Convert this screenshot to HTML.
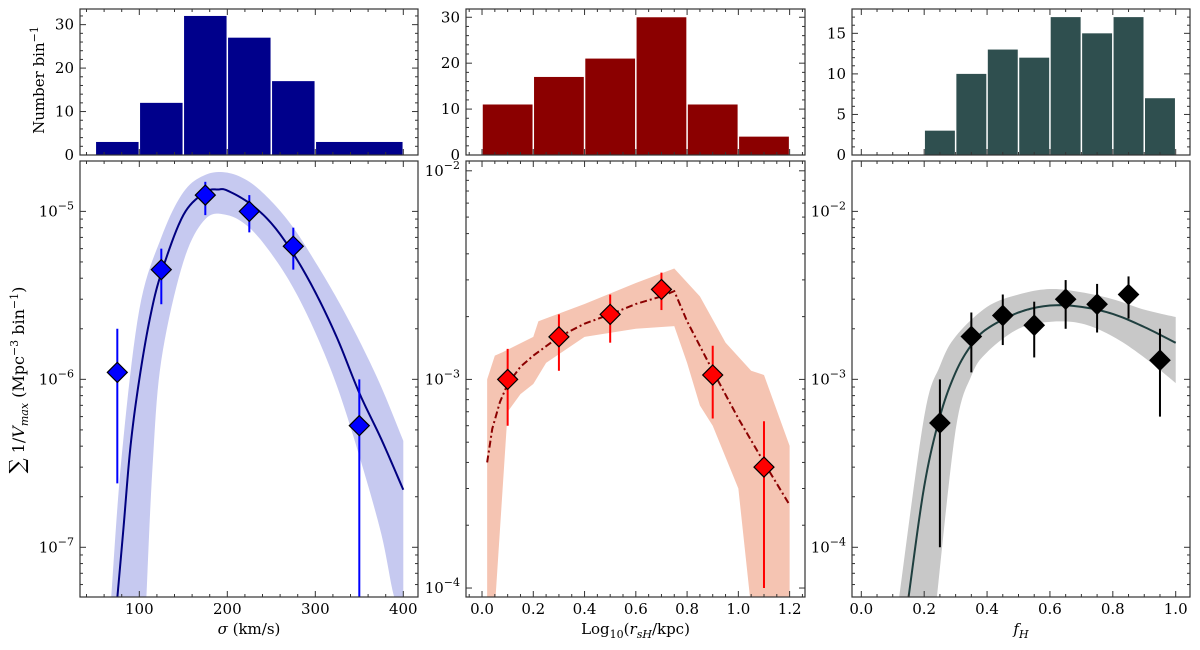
<!DOCTYPE html>
<html><head><meta charset="utf-8">
<style>
body{margin:0;background:#fff;}
svg{display:block;font-family:"DejaVu Serif","Liberation Serif",serif;}
</style></head>
<body>
<svg id="c" width="1200" height="650" viewBox="0 0 1200 650" xmlns="http://www.w3.org/2000/svg">
<defs>
<clipPath id="cp0"><rect x="80" y="161" width="338" height="436"/></clipPath>
<clipPath id="cp1"><rect x="466" y="161" width="339" height="436"/></clipPath>
<clipPath id="cp2"><rect x="852" y="161" width="338" height="436"/></clipPath>
</defs>
<text x="0" y="0" transform="translate(44,80) rotate(-90)" text-anchor="middle" font-size="15">Number bin<tspan dy="-6" font-size="11">−1</tspan></text>
<text x="0" y="0" transform="translate(24,380) rotate(-90)" text-anchor="middle" font-size="16"><tspan font-size="21">∑</tspan> 1/<tspan font-style="italic">V</tspan><tspan font-style="italic" font-size="11" dy="4">max</tspan><tspan dy="-4"> (Mpc</tspan><tspan dy="-6" font-size="11">−3</tspan><tspan dy="6"> bin</tspan><tspan dy="-6" font-size="11">−1</tspan><tspan dy="6">)</tspan></text>
</svg>
<script>
// ---------- data ----------
const hist1Edges=[50,100,150,200,250,300,400];
const hist1Counts=[3,12,32,27,17,3];
const pts1X=[75,125,175,225,275,350];
const pts1Y=[1.1e-6,4.5e-6,1.25e-5,1.0e-5,6.2e-6,5.3e-7];
const pts1Lo=[2.4e-7,2.8e-6,9.5e-6,7.5e-6,4.5e-6,5e-8];
const pts1Hi=[2.0e-6,6.0e-6,1.5e-5,1.25e-5,8.0e-6,1.0e-6];
const fit1X=[75,82,90,100,112,125,150,175,190,200,225,250,275,300,325,350,375,400];
const fit1Y=[5e-8,1.3e-7,4.0e-7,1.0e-6,2.3e-6,4.3e-6,9.5e-6,1.3e-5,1.35e-5,1.33e-5,1.12e-5,8.5e-6,5.6e-6,3.3e-6,1.75e-6,8.3e-7,4.4e-7,2.2e-7];
const band1UpX=[68,80,100,125,150,175,200,225,250,275,300,325,350,375,400];
const band1Up=[5e-8,3.5e-7,2.6e-6,7e-6,1.3e-5,1.65e-5,1.7e-5,1.5e-5,1.15e-5,8e-6,5e-6,3e-6,1.7e-6,9e-7,4.3e-7];
const band1LoX=[108,115,125,150,175,200,225,250,275,300,325,350,375,390,400];
const band1Lo=[5e-8,3e-7,1.3e-6,5e-6,9e-6,9.5e-6,8e-6,5.6e-6,3.5e-6,1.9e-6,9e-7,3.5e-7,1.2e-7,5e-8,5e-8];

const hist2Edges=[0,0.2,0.4,0.6,0.8,1.0,1.2];
const hist2Counts=[11,17,21,30,11,4];
const pts2X=[0.1,0.3,0.5,0.7,0.9,1.1];
const pts2Y=[1.0e-3,1.6e-3,2.05e-3,2.7e-3,1.05e-3,3.8e-4];
const pts2Lo=[6e-4,1.1e-3,1.5e-3,2.15e-3,6.5e-4,1e-4];
const pts2Hi=[1.4e-3,2.05e-3,2.55e-3,3.25e-3,1.45e-3,6.3e-4];
const fit2X=[0.02,0.04,0.07,0.1,0.15,0.2,0.3,0.4,0.5,0.6,0.7,0.75,0.8,0.9,1.0,1.1,1.2];
const fit2Y=[4e-4,5.8e-4,7.8e-4,9.5e-4,1.15e-3,1.3e-3,1.6e-3,1.85e-3,2.05e-3,2.3e-3,2.5e-3,2.65e-3,1.9e-3,1.1e-3,6.5e-4,4e-4,2.5e-4];
const band2UpX=[0.02,0.05,0.08,0.2,0.22,0.4,0.6,0.75,0.85,0.95,1.05,1.1,1.2];
const band2Up=[1e-3,1.3e-3,1.35e-3,1.6e-3,1.9e-3,2.3e-3,2.9e-3,3.4e-3,2.5e-3,1.5e-3,1.1e-3,1.05e-3,4.8e-4];
const band2LoX=[0.02,0.05,0.1,0.15,0.2,0.25,0.4,0.6,0.75,0.8,0.85,0.9,1.0,1.05,1.2];
const band2Lo=[8e-5,8e-5,7e-4,8.5e-4,9.5e-4,1.2e-3,1.6e-3,1.75e-3,1.8e-3,1.2e-3,7.5e-4,6e-4,3e-4,8e-5,8e-5];

const hist3Edges=[0.2,0.3,0.4,0.5,0.6,0.7,0.8,0.9,1.0];
const hist3Counts=[3,10,13,12,17,15,17,7];
const pts3X=[0.25,0.35,0.45,0.55,0.65,0.75,0.85,0.95];
const pts3Y=[5.5e-4,1.8e-3,2.4e-3,2.1e-3,3.0e-3,2.8e-3,3.2e-3,1.3e-3];
const pts3Lo=[1e-4,1.1e-3,1.6e-3,1.35e-3,2.0e-3,1.9e-3,2.3e-3,6e-4];
const pts3Hi=[1e-3,2.5e-3,3.2e-3,2.9e-3,3.9e-3,3.7e-3,4.1e-3,2.0e-3];
const fit3X=[0.15,0.2,0.25,0.3,0.35,0.4,0.5,0.6,0.7,0.8,0.9,1.0];
const fit3Y=[5e-5,2.3e-4,6e-4,1.1e-3,1.6e-3,2e-3,2.5e-3,2.75e-3,2.7e-3,2.45e-3,2.05e-3,1.65e-3];
const band3UpX=[0.12,0.2,0.25,0.3,0.4,0.5,0.6,0.7,0.8,0.9,1.0];
const band3Up=[5e-5,6e-4,1.2e-3,1.8e-3,2.7e-3,3.2e-3,3.45e-3,3.3e-3,3e-3,2.6e-3,2.35e-3];
const band3LoX=[0.24,0.3,0.35,0.4,0.5,0.6,0.7,0.8,0.9,1.0];
const band3Lo=[5e-5,5e-4,1.05e-3,1.45e-3,2e-3,2.2e-3,2.15e-3,1.8e-3,1.35e-3,9.5e-4];

const xTicks1=[100,200,300,400];
const xTicks2=[0.0,0.2,0.4,0.6,0.8,1.0,1.2];
const xTicks3=[0.0,0.2,0.4,0.6,0.8,1.0];
const hTicks1=[0,10,20,30];
const hTicks2=[0,10,20,30];
const hTicks3=[0,5,10,15];
const logTicks1=[-7,-6,-5];
const logTicks2=[-4,-3,-2];
const logTicks3=[-4,-3,-2];

// ---------- drawing ----------
const svg=document.getElementById('c');
const NS='http://www.w3.org/2000/svg';
function mk(tag,attrs,parent){const e=document.createElementNS(NS,tag);for(const k in attrs)e.setAttribute(k,attrs[k]);(parent||svg).appendChild(e);return e;}
function smoothPts(pts){ // Catmull-Rom to dense polyline
  if(pts.length<3)return pts;
  const out=[];
  for(let i=0;i<pts.length-1;i++){
    const p0=pts[Math.max(0,i-1)],p1=pts[i],p2=pts[i+1],p3=pts[Math.min(pts.length-1,i+2)];
    for(let s=0;s<10;s++){
      const t=s/10,t2=t*t,t3=t2*t;
      const f=(a,b,c,d)=>0.5*((2*b)+(-a+c)*t+(2*a-5*b+4*c-d)*t2+(-a+3*b-3*c+d)*t3);
      out.push([f(p0[0],p1[0],p2[0],p3[0]),f(p0[1],p1[1],p2[1],p3[1])]);
    }
  }
  out.push(pts[pts.length-1]);return out;
}
const toD=(pts,start)=>pts.map((q,k)=>((k||!start)?'L':'M')+q[0].toFixed(2)+','+q[1].toFixed(2)).join('');

const panels=[
 {L:80,R:418,xd:[32.6,416.7],hmax:33.6,ld:[-7.296,-4.7],edges:hist1Edges,counts:hist1Counts,hc:'#00008b',
  px:pts1X,py:pts1Y,plo:pts1Lo,phi:pts1Hi,mc:'#0000ff',ec:'#0000ff',fx:fit1X,fy:fit1Y,fc:'#000080',dash:null,smoothFit:true,smoothBand:true,
  bux:band1UpX,bu:band1Up,blx:band1LoX,bl:band1Lo,bc:'#c6c9f0',xt:xTicks1,xminor:20,ht:hTicks1,hminor:2,lt:logTicks1,
  fmt:v=>String(v),clip:'cp0'},
 {L:466,R:805,xd:[-0.0625,1.26],hmax:31.8,ld:[-4.043,-1.953],edges:hist2Edges,counts:hist2Counts,hc:'#8b0000',
  px:pts2X,py:pts2Y,plo:pts2Lo,phi:pts2Hi,mc:'#ff0000',ec:'#ff0000',fx:fit2X,fy:fit2Y,fc:'#8b0000',dash:'7,3,2,3',smoothFit:false,smoothBand:false,
  bux:band2UpX,bu:band2Up,blx:band2LoX,bl:band2Lo,bc:'#f5c4b2',xt:xTicks2,xminor:0.05,ht:hTicks2,hminor:2,lt:logTicks2,
  fmt:v=>v.toFixed(1),clip:'cp1'},
 {L:852,R:1190,xd:[-0.0296,1.0455],hmax:18.0,ld:[-4.296,-1.7],edges:hist3Edges,counts:hist3Counts,hc:'#2f4f4f',
  px:pts3X,py:pts3Y,plo:pts3Lo,phi:pts3Hi,mc:'#000',ec:'#000',fx:fit3X,fy:fit3Y,fc:'#1f3f3f',dash:null,smoothFit:true,smoothBand:true,
  bux:band3UpX,bu:band3Up,blx:band3LoX,bl:band3Lo,bc:'#c8c8c8',xt:xTicks3,xminor:0.05,ht:hTicks3,hminor:1,lt:logTicks3,
  fmt:v=>v.toFixed(1),clip:'cp2'}
];
const HT=9,HB=155,MT=161,MB=597;

panels.forEach((p,i)=>{
  const g=mk('g',{});
  
  
  const X=v=>p.L+(v-p.xd[0])/(p.xd[1]-p.xd[0])*(p.R-p.L);
  const HY=v=>HB-v/p.hmax*(HB-HT);
  const LY=v=>MB-(Math.log10(v)-p.ld[0])/(p.ld[1]-p.ld[0])*(MB-MT);
  p.counts.forEach((c,k)=>{
    const x0=X(p.edges[k]),x1=X(p.edges[k+1]);
    const r=mk('rect',{x:x0+0.75,y:HY(c),width:x1-x0-1.5,height:HB-HY(c),fill:p.hc,stroke:'none'},g);
    
    
  });
  const cg=mk('g',{'clip-path':'url(#'+p.clip+')'},g);
  let up=p.bux.map((x,k)=>[X(x),LY(p.bu[k])]);
  let lo=p.blx.map((x,k)=>[X(x),LY(p.bl[k])]);
  if(p.smoothBand){up=smoothPts(up);lo=smoothPts(lo);}
  const d=toD(up,true)+toD(lo.slice().reverse(),false)+'Z';
  const band=mk('path',{d:d,fill:p.bc,stroke:'none'},cg);
  
  
  let fp=p.fx.map((x,k)=>[X(x),LY(p.fy[k])]);
  if(p.smoothFit)fp=smoothPts(fp);
  const fl=mk('path',{d:toD(fp,true),fill:'none',stroke:p.fc,'stroke-width':2},cg);
  if(p.dash)fl.setAttribute('stroke-dasharray',p.dash);
  
  
  p.px.forEach((x,k)=>{
    const cx=X(x);
    const eb=mk('line',{x1:cx,x2:cx,y1:LY(Math.max(p.plo[k],1e-12)),y2:LY(p.phi[k]),stroke:p.ec,'stroke-width':2},cg);
    
    
    const cy=LY(p.py[k]),s=10;
    const m=mk('path',{d:`M${cx},${cy-s}L${cx+s},${cy}L${cx},${cy+s}L${cx-s},${cy}Z`,fill:p.mc,stroke:'#000','stroke-width':1.2},cg);
    
    
  });
  [[HT,HB],[MT,MB]].forEach(([t,b])=>{mk('rect',{x:p.L,y:t,width:p.R-p.L,height:b-t,fill:'none',stroke:'#333','stroke-width':1.2},g);});
  const tk=(x1,y1,x2,y2)=>mk('line',{x1,y1,x2,y2,stroke:'#333','stroke-width':1},g);
  const lo2=Math.ceil(p.xd[0]/p.xminor),hi2=Math.floor(p.xd[1]/p.xminor);
  for(let n=lo2;n<=hi2;n++){
    const v=n*p.xminor,x=X(v);
    const major=p.xt.some(t=>Math.abs(t-v)<1e-6)||(i===0&&Math.abs(v%100)<1e-6);
    const L=major?6:3;
    [HT,MT].forEach(t=>tk(x,t,x,t+L));[HB,MB].forEach(b=>tk(x,b,x,b-L));
  }
  p.xt.forEach(v=>{
    const t=mk('text',{x:X(v),y:614,'text-anchor':'middle','font-size':15},g);t.textContent=p.fmt(v);
    
    
  });
  for(let v=0;v<=p.hmax;v+=p.hminor){
    const y=HY(v),major=p.ht.includes(v),L=major?6:3;
    tk(p.L,y,p.L+L,y);tk(p.R,y,p.R-L,y);
  }
  p.ht.forEach(v=>{
    const t=mk('text',{x:p.L-6,y:HY(v)+5,'text-anchor':'end','font-size':15},g);t.textContent=v;
    
    
  });
  for(let e=Math.floor(p.ld[0]);e<=Math.ceil(p.ld[1]);e++){
    for(let m=1;m<10;m++){
      const lv=e+Math.log10(m);if(lv<p.ld[0]||lv>p.ld[1])continue;
      const y=LY(Math.pow(10,lv)),L=m===1?6:3;
      tk(p.L,y,p.L+L,y);tk(p.R,y,p.R-L,y);
    }
  }
  p.lt.forEach(e=>{
    const t=mk('text',{x:p.L-6,y:LY(Math.pow(10,e))+5,'text-anchor':'end','font-size':15},g);
    
    
    t.textContent='10';
    const s=mk('tspan',{dy:-7,'font-size':11},t);s.textContent='−'+(-e);
  });
  const xt=mk('text',{x:(p.L+p.R)/2,y:634,'text-anchor':'middle','font-size':15},g);
  
  
  if(i===0){xt.innerHTML='<tspan font-style="italic">σ</tspan> (km/s)';}
  else if(i===1){xt.innerHTML='Log<tspan font-size="11" dy="4">10</tspan><tspan dy="-4">(</tspan><tspan font-style="italic">r</tspan><tspan font-style="italic" font-size="11" dy="4">sH</tspan><tspan dy="-4">/kpc)</tspan>';}
  else {xt.innerHTML='<tspan font-style="italic">f</tspan><tspan font-style="italic" font-size="11" dy="4">H</tspan>';}
});
</script>
</body></html>
